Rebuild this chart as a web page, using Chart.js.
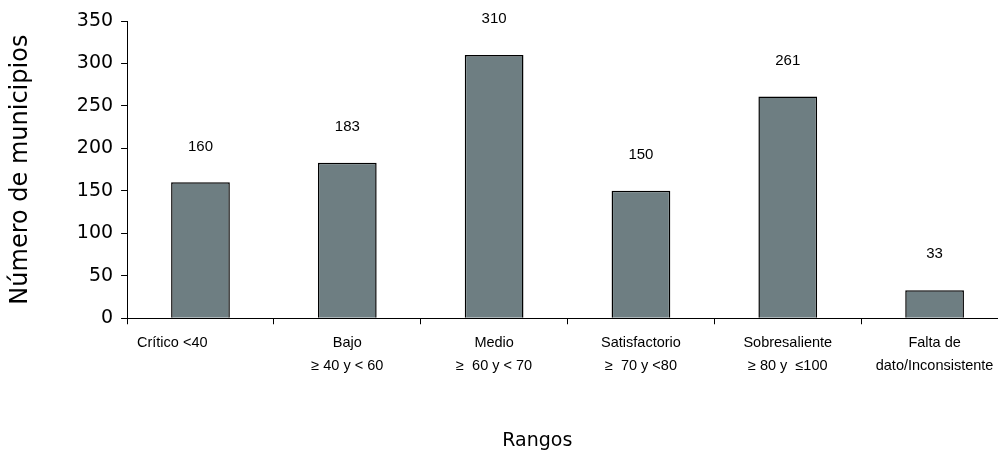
<!DOCTYPE html>
<html>
<head>
<meta charset="utf-8">
<script src="https://cdn.jsdelivr.net/npm/chart.js"></script>
<style>
  html, body { margin: 0; padding: 0; background: #fff; overflow: hidden; }
  #wrap { width: 1012px; height: 452px; }
</style>
</head>
<body>
<div id="wrap"><canvas id="grafico"></canvas></div>
<script>
const rangos = [
  ["Crítico <40              ", ""],
  ["Bajo", "≥ 40 y < 60"],
  ["Medio", "≥  60 y < 70"],
  ["Satisfactorio", "≥  70 y <80"],
  ["Sobresaliente", "≥ 80 y  ≤100"],
  ["Falta de", "dato/Inconsistente"]
];
const municipios = [160, 183, 310, 150, 261, 33];
const ticksY = [0, 50, 100, 150, 200, 250, 300, 350];

// etiquetas de valor encima de cada barra
const etiquetas = {
  id: "etiquetas",
  afterDatasetsDraw(chart) {
    const ctx = chart.ctx;
    const meta = chart.getDatasetMeta(0);
    ctx.save();
    ctx.font = "15px 'Liberation Sans', Arial, sans-serif";
    ctx.fillStyle = "#000";
    ctx.textAlign = "center";
    ctx.textBaseline = "middle";
    meta.data.forEach((bar, i) => {
      ctx.fillText(String(municipios[i]), bar.x, bar.y - 36);
    });
    ctx.restore();
  }
};

new Chart(document.getElementById("grafico"), {
  type: "bar",
  data: {
    labels: rangos,
    datasets: [{
      data: municipios,
      backgroundColor: "#6e7e82",
      borderColor: "#000",
      borderWidth: 1.5,
      barPercentage: 0.4,
      categoryPercentage: 1
    }]
  },
  options: {
    responsive: true,
    maintainAspectRatio: false,
    animation: false,
    layout: { padding: { left: 6, right: 4, top: 21, bottom: 0 } },
    plugins: {
      legend: { display: false },
      tooltip: { enabled: false }
    },
    scales: {
      x: {
        grid: {
          drawOnChartArea: false,
          drawTicks: true,
          tickLength: 6,
          color: "#000",
          offset: true
        },
        border: { color: "#000", width: 1 },
        ticks: {
          color: "#000",
          maxRotation: 0,
          autoSkip: false,
          padding: 8,
          font: { family: "'Liberation Sans', Arial, sans-serif", size: 14.5, lineHeight: 1.55 }
        },
        title: {
          display: true,
          text: "Rangos          ",
          color: "#000",
          padding: { top: 44, bottom: 0 },
          font: { family: "'DejaVu Sans', sans-serif", size: 19 }
        }
      },
      y: {
        min: 0,
        max: 350,
        afterBuildTicks(axis) {
          axis.ticks = ticksY.map(v => ({ value: v }));
        },
        grid: {
          drawOnChartArea: false,
          drawTicks: true,
          tickLength: 6,
          color: "#000"
        },
        border: { color: "#000", width: 1 },
        ticks: {
          color: "#000",
          padding: 8,
          font: { family: "'DejaVu Sans', sans-serif", size: 19 }
        },
        title: {
          display: true,
          text: "Número de municipios",
          color: "#000",
          padding: { top: 0, bottom: 34 },
          font: { family: "'DejaVu Sans', sans-serif", size: 24 }
        }
      }
    }
  },
  plugins: [etiquetas]
});
</script>
</body>
</html>
